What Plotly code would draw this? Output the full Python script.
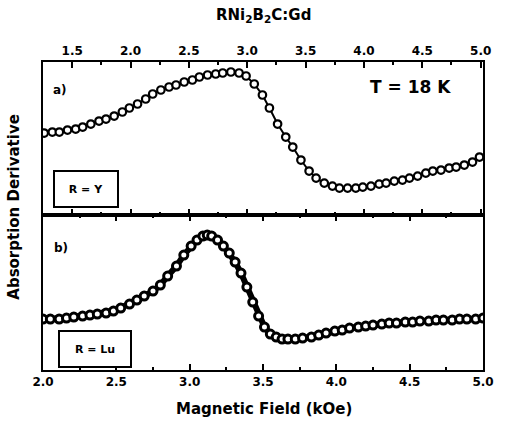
import plotly.graph_objects as go

# Panel a) R = Y  (top axis, field in kOe)
field_a = [1.26, 1.33, 1.39, 1.46, 1.53, 1.59, 1.66, 1.73, 1.79, 1.86, 1.93, 1.99, 2.06, 2.13,
           2.19, 2.26, 2.33, 2.39, 2.46, 2.53, 2.59, 2.66, 2.73, 2.79, 2.86, 2.93, 2.99, 3.06,
           3.13, 3.19, 3.26, 3.33, 3.39, 3.46, 3.53, 3.59, 3.66, 3.73, 3.79, 3.86, 3.93, 3.99,
           4.06, 4.13, 4.19, 4.26, 4.33, 4.39, 4.46, 4.53, 4.59, 4.66, 4.73, 4.79, 4.86, 4.93, 4.99]
signal_a = [0.57, 0.58, 0.58, 0.60, 0.61, 0.63, 0.66, 0.69, 0.71, 0.74, 0.78, 0.82, 0.86, 0.91,
            0.96, 1.00, 1.03, 1.05, 1.08, 1.10, 1.13, 1.15, 1.16, 1.17, 1.18, 1.17, 1.14, 1.06,
            0.95, 0.82, 0.66, 0.53, 0.43, 0.30, 0.19, 0.12, 0.07, 0.04, 0.02, 0.02, 0.02, 0.03,
            0.04, 0.06, 0.07, 0.09, 0.10, 0.12, 0.14, 0.17, 0.19, 0.20, 0.22, 0.23, 0.25, 0.28, 0.33]

# Panel b) R = Lu  (bottom axis, field in kOe)
field_b = [2.00, 2.05, 2.11, 2.16, 2.21, 2.27, 2.32, 2.37, 2.43, 2.48, 2.53, 2.59, 2.64, 2.69,
           2.75, 2.80, 2.85, 2.91, 2.96, 3.01, 3.05, 3.09, 3.12, 3.15, 3.19, 3.23, 3.27, 3.31,
           3.35, 3.39, 3.43, 3.47, 3.51, 3.55, 3.59, 3.63, 3.67, 3.72, 3.77, 3.83, 3.88, 3.93,
           3.99, 4.04, 4.09, 4.15, 4.20, 4.25, 4.31, 4.36, 4.41, 4.47, 4.52, 4.57, 4.63, 4.68,
           4.73, 4.79, 4.84, 4.89, 4.95, 5.00]
signal_b = [0.21, 0.21, 0.21, 0.22, 0.23, 0.24, 0.25, 0.26, 0.27, 0.29, 0.32, 0.36, 0.40, 0.44,
            0.49, 0.55, 0.64, 0.74, 0.85, 0.94, 1.00, 1.04, 1.05, 1.04, 1.00, 0.94, 0.87, 0.78,
            0.67, 0.53, 0.38, 0.24, 0.13, 0.06, 0.03, 0.01, 0.01, 0.01, 0.02, 0.03, 0.05, 0.07,
            0.09, 0.10, 0.12, 0.13, 0.14, 0.15, 0.16, 0.17, 0.17, 0.18, 0.18, 0.19, 0.19, 0.20,
            0.20, 0.20, 0.21, 0.21, 0.21, 0.22]

top_ticks = [1.5, 2.0, 2.5, 3.0, 3.5, 4.0, 4.5, 5.0]
bottom_ticks = [2.0, 2.5, 3.0, 3.5, 4.0, 4.5, 5.0]

FONT = "DejaVu Sans"

fig = go.Figure()
fig.add_trace(go.Scatter(
    x=field_a, y=signal_a, xaxis="x2", yaxis="y2", mode="lines+markers",
    line=dict(color="black", width=2),
    marker=dict(symbol="circle", size=7.5, color="white", line=dict(color="black", width=2.2)),
    showlegend=False))
fig.add_trace(go.Scatter(
    x=field_b, y=signal_b, xaxis="x", yaxis="y", mode="lines+markers",
    line=dict(color="black", width=6),
    marker=dict(symbol="circle", size=8, color="white", line=dict(color="black", width=3)),
    showlegend=False))

tickfont = dict(family=FONT, size=12, color="black", weight="bold")
common_x = dict(showline=True, linecolor="black", linewidth=2, ticks="inside", ticklen=6,
                tickwidth=2, tickcolor="black", showgrid=False, zeroline=False,
                tickfont=tickfont, tickformat=".1f",
                minor=dict(ticks="inside", ticklen=3, tickwidth=1.5, dtick=0.25, tickcolor="black"))
common_y = dict(showline=True, linecolor="black", linewidth=2, mirror=True, showticklabels=False,
                ticks="", showgrid=False, zeroline=False)

fig.update_layout(
    width=505, height=425,
    margin=dict(l=43, r=11, t=62, b=55),
    paper_bgcolor="white", plot_bgcolor="white",
    xaxis=dict(domain=[0, 1], anchor="y", range=[2.0, 5.0], tickvals=bottom_ticks,
               mirror="ticks", **common_x),
    yaxis=dict(domain=[0, 0.503], anchor="x", range=[-0.30, 1.25], **common_y),
    xaxis2=dict(domain=[0, 1], anchor="y2", side="top", range=[1.25, 5.02], tickvals=top_ticks,
                mirror="ticks", **common_x),
    yaxis2=dict(domain=[0.503, 1], anchor="x2", range=[-0.25, 1.28], **common_y),
)

bold = lambda s: dict(family=FONT, size=s, color="black", weight="bold")
ann = [
    dict(text="RNi<sub>2</sub>B<sub>2</sub>C:Gd", x=0.50, y=1.15, font=bold(15)),
    dict(text="Magnetic Field (kOe)", x=0.503, y=-0.125, font=bold(15)),
    dict(text="Absorption Derivative", x=-0.066, y=0.53, textangle=-90, font=bold(15)),
    dict(text="a)", x=0.038, y=0.909, font=bold(12)),
    dict(text="b)", x=0.042, y=0.396, font=bold(12)),
    dict(text="T = 18 K", x=0.836, y=0.92, font=bold(17)),
    dict(text="R = Y", x=0.022, y=0.588, xanchor="left", font=bold(11), bordercolor="black",
         borderwidth=2, borderpad=0, width=62, height=34, bgcolor="white"),
    dict(text="R = Lu", x=0.033, y=0.068, xanchor="left", font=bold(11), bordercolor="black",
         borderwidth=2, borderpad=0, width=70, height=34, bgcolor="white"),
]
for a in ann:
    a.setdefault("xanchor", "center")
    a.update(xref="paper", yref="paper", showarrow=False, yanchor="middle")
fig.update_layout(annotations=ann)

fig.write_html("out.html")
